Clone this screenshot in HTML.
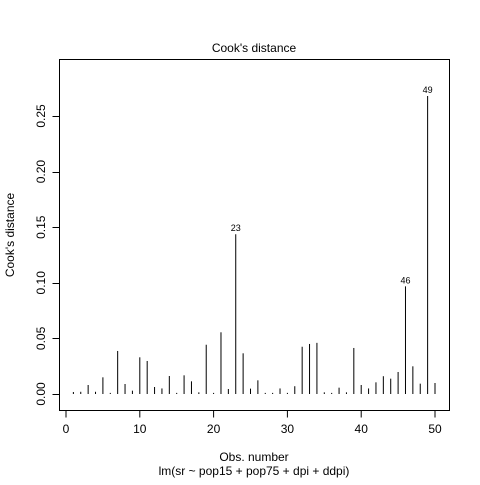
<!DOCTYPE html>
<html><head><meta charset="utf-8"><style>
body{margin:0;background:#fff}
svg text{font-family:"Liberation Sans",sans-serif;fill:#000}
</style></head><body>
<svg id="c" width="480" height="480">
<rect x="0" y="0" width="480" height="480" fill="#fff"/>
<rect x="59.5" y="59.5" width="390" height="351" fill="none" stroke="#000"/>
<text x="254" y="52" font-size="12" text-anchor="middle">Cook's distance</text>
<text x="254" y="461" font-size="12" text-anchor="middle">Obs. number</text>
<text x="254" y="475" font-size="12" text-anchor="middle">lm(sr ~ pop15 + pop75 + dpi + ddpi)</text>
<text transform="translate(14,235) rotate(-90)" font-size="12" text-anchor="middle">Cook's distance</text>
<g id="g"></g>
</svg>
<script>
const obs=[1,2,3,4,5,6,7,8,9,10,11,12,13,14,15,16,17,18,19,20,21,22,23,24,25,26,27,28,29,30,31,32,33,34,35,36,37,38,39,40,41,42,43,44,45,46,47,48,49,50];
const cooks=[0.0018,0.002,0.0081,0.002,0.015,0.001,0.0387,0.009,0.003,0.033,0.0297,0.0063,0.005,0.0162,0.001,0.0168,0.0114,0.0015,0.0443,0.001,0.0555,0.0045,0.1437,0.0366,0.0048,0.0123,0.001,0.001,0.005,0.001,0.007,0.0425,0.045,0.046,0.0015,0.001,0.0057,0.0015,0.0414,0.0081,0.005,0.0105,0.016,0.0138,0.0198,0.0968,0.0249,0.0093,0.268,0.0099];
const labelled=[23,46,49];
const xTicks=[0,10,20,30,40,50];
const yTicks=[0,0.05,0.10,0.15,0.20,0.25];
const yTickLabels=["0.00","0.05","0.10","0.15","0.20","0.25"];
const X=v=>66+v*7.38, Y=v=>394-v*1112;
const g=document.getElementById('g'),NS='http://www.w3.org/2000/svg';
function mk(t,a){const e=document.createElementNS(NS,t);for(const k in a)e.setAttribute(k,a[k]);g.appendChild(e);return e;}
obs.forEach((o,i)=>{
 const l=mk('line',{x1:X(o),x2:X(o),y1:Y(0),y2:Y(cooks[i]),stroke:'#000','stroke-width':1});
 
 
 if(labelled.includes(o)){
  const t=mk('text',{x:X(o),y:Y(cooks[i])-3,'font-size':9,'text-anchor':'middle'});t.textContent=o;
  
  
 }
});
const xa=mk('line',{x1:X(0),x2:X(50),y1:410.5,y2:410.5,stroke:'#000'});


xTicks.forEach(v=>{
 const tk=mk('line',{x1:X(v),x2:X(v),y1:410.5,y2:417.5,stroke:'#000'});
 
 
 const t=mk('text',{x:X(v),y:433,'font-size':12,'text-anchor':'middle'});t.textContent=v;
 
 
});
const ya=mk('line',{x1:59.5,x2:59.5,y1:Y(0),y2:Y(0.25),stroke:'#000'});


yTicks.forEach((v,i)=>{
 const tk=mk('line',{x1:52.5,x2:59.5,y1:Math.round(Y(v))+0.5,y2:Math.round(Y(v))+0.5,stroke:'#000'});
 
 
 const t=mk('text',{transform:`translate(45,${Y(v)}) rotate(-90)`,'font-size':12,'text-anchor':'middle'});t.textContent=yTickLabels[i];
 
 
});
</script>
</body></html>
